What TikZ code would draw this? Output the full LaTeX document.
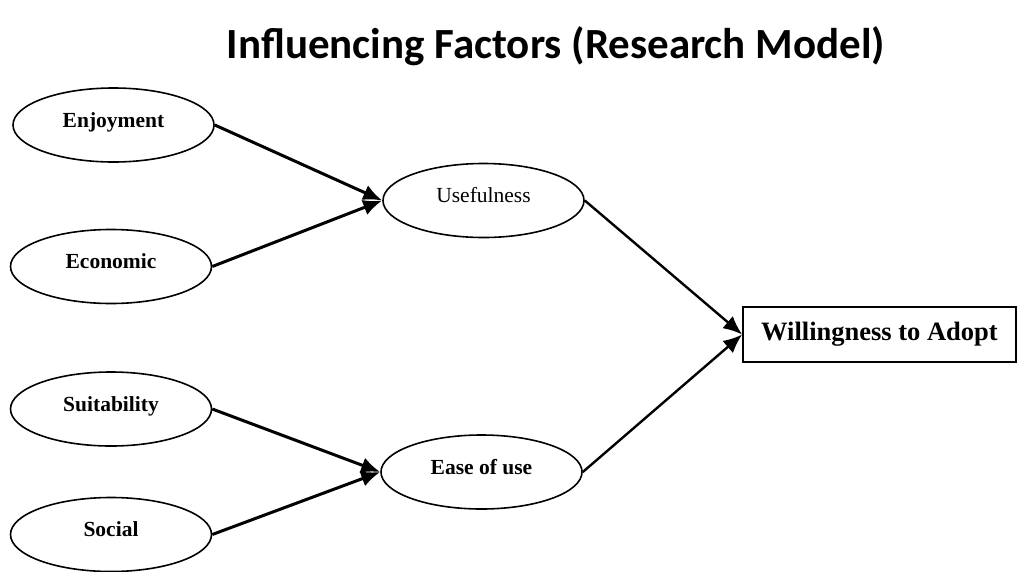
\documentclass[tikz,border=0pt]{standalone}
\usepackage{fontspec}
\setmainfont{Liberation Serif}
\newfontfamily\titlefont{Carlito}
\usetikzlibrary{shapes.geometric,arrows.meta}
\begin{document}
\begin{tikzpicture}[x=1pt,y=-1pt,
    fac/.style={draw,ellipse,line width=1.6pt,minimum width=201pt,minimum
        height=74pt,inner sep=0pt,text height=12pt,text depth=8pt,
        font=\fontsize{21.5}{25}\selectfont\bfseries},
    goal/.style={draw,rectangle,line width=1.6pt,minimum width=273pt,minimum
        height=55pt,inner sep=0pt,font=\fontsize{26.5}{30}\selectfont\bfseries},
    arr/.style={-{Latex[length=19pt,width=16pt]},line width=3pt}]
    \useasboundingbox (0,0) rectangle (1018,571);

    \node[anchor=base,font=\fontsize{43}{48}\selectfont\titlefont\bfseries]
    (title) at (556,58) {Influencing Factors (Research Model)};

    \node[fac] (enj) at (113.5,125) {Enjoyment};
    \node[fac] (eco) at (111,266.5) {Economic};
    \node[fac] (sui) at (111,409) {Suitability};
    \node[fac] (soc) at (111,534.5) {Social};
    \node[fac,font=\fontsize{21.5}{25}\selectfont] (use) at (483.5,200.5) {Usefulness};
    \node[fac] (eas) at (481.5,472) {Ease of use};
    \node[goal] (wil) at (879.5,334.5) {Willingness to Adopt};

    \draw[arr] (enj.east) to (use.west);
    \draw[arr] (eco.east) to (use.west);
    \draw[arr] (sui.east) to (eas.west);
    \draw[arr] (soc.east) to (eas.west);
    \draw[arr,line width=2.4pt] (use.east) to (wil.west);
    \draw[arr,line width=2.4pt] (eas.east) to (wil.west);
  \end{tikzpicture}
\end{document}
